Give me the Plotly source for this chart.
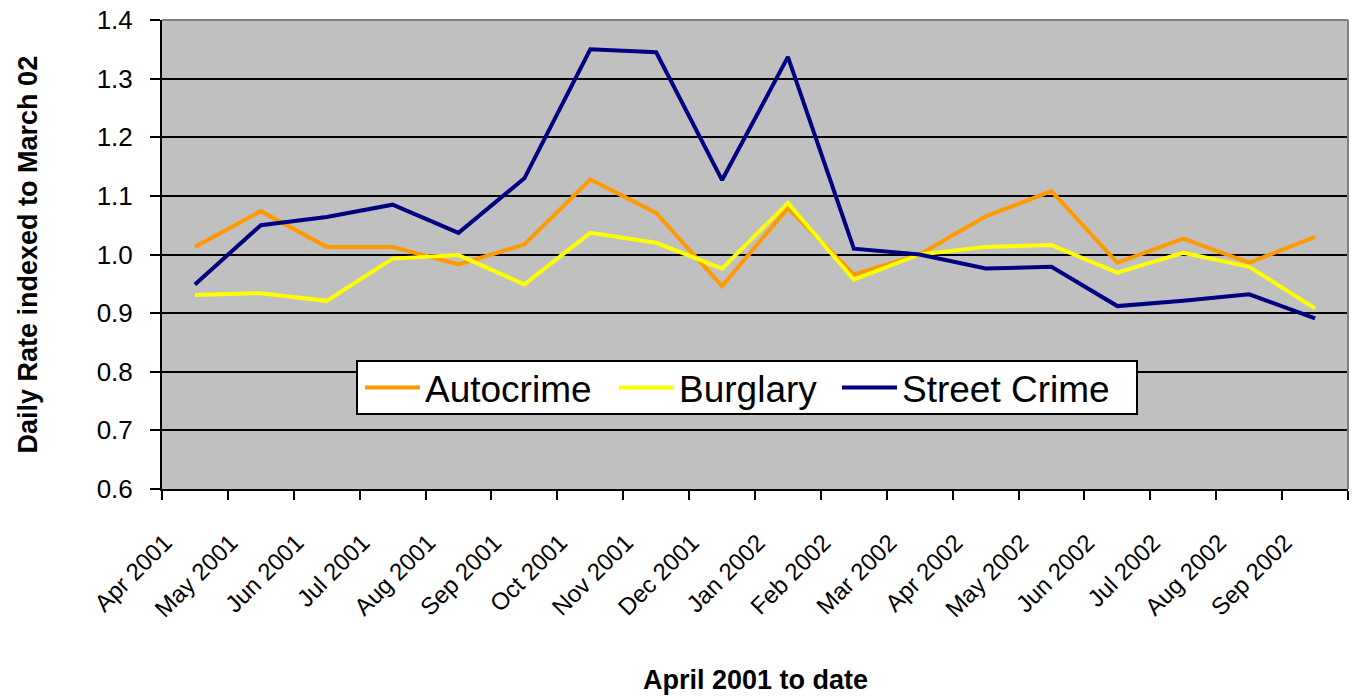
import plotly.graph_objects as go

months = ["Apr 2001", "May 2001", "Jun 2001", "Jul 2001", "Aug 2001", "Sep 2001",
          "Oct 2001", "Nov 2001", "Dec 2001", "Jan 2002", "Feb 2002", "Mar 2002",
          "Apr 2002", "May 2002", "Jun 2002", "Jul 2002", "Aug 2002", "Sep 2002"]

autocrime = [1.013, 1.074, 1.013, 1.013, 0.983, 1.017, 1.128, 1.071, 0.946, 1.079,
             0.966, 1.000, 1.065, 1.108, 0.986, 1.027, 0.986, 1.030]
burglary = [0.931, 0.934, 0.921, 0.993, 0.999, 0.949, 1.037, 1.020, 0.976, 1.088,
            0.957, 1.000, 1.013, 1.016, 0.969, 1.003, 0.979, 0.908]
street_crime = [0.949, 1.050, 1.064, 1.085, 1.037, 1.130, 1.350, 1.345, 1.127, 1.337,
                1.010, 1.000, 0.976, 0.979, 0.912, 0.921, 0.932, 0.891]

y_ticks = [0.6, 0.7, 0.8, 0.9, 1.0, 1.1, 1.2, 1.3, 1.4]

FONT = "Liberation Sans, Arial, sans-serif"

# plot area in pixels (for positioning the legend entries)
PL, PR, PT, PB = 162, 1348, 20, 489
def px_x(p):
    return (p - PL) / (PR - PL)
def px_y(p):
    return (PB - p) / (PB - PT)

series = [("Autocrime", autocrime, "#FF9900", "legend", 360),
          ("Burglary", burglary, "#FFFF00", "legend2", 614),
          ("Street Crime", street_crime, "#000080", "legend3", 837)]

fig = go.Figure()
for name, vals, col, leg, _ in series:
    fig.add_trace(go.Scatter(x=months, y=vals, name=name, mode="lines",
                             line=dict(color=col, width=4), legend=leg))

legend_common = dict(orientation="h", xanchor="left", yanchor="middle",
                     y=px_y(388), bgcolor="rgba(0,0,0,0)", borderwidth=0,
                     font=dict(size=37, family=FONT), itemwidth=55)
legends = {}
for name, vals, col, leg, xpix in series:
    legends[leg] = dict(legend_common, x=px_x(xpix))

fig.update_layout(
    width=1354, height=696,
    margin=dict(l=PL, r=1354 - PR, t=PT, b=696 - PB),
    paper_bgcolor="white",
    plot_bgcolor="#C0C0C0",
    font=dict(family=FONT, color="black"),
    showlegend=True,
    **legends,
    xaxis=dict(type="category", range=[-0.5, 17.5], showgrid=False,
               showline=True, linecolor="black", linewidth=2,
               ticks="outside", tickson="boundaries", ticklen=9, tickwidth=2,
               tickcolor="black", tickangle=-45, tickfont=dict(size=24, family=FONT),
               ticklabelstandoff=28, ticklabelshift=-30),
    yaxis=dict(range=[0.6, 1.4], tickvals=y_ticks,
               ticktext=[f"{v:.1f}" for v in y_ticks],
               showgrid=True, gridcolor="black", gridwidth=2, zeroline=False,
               showline=True, linecolor="black", linewidth=2,
               ticks="outside", ticklen=10, tickwidth=2, tickcolor="black",
               tickfont=dict(size=26, family=FONT), ticklabelstandoff=12),
    shapes=[
        dict(type="line", xref="paper", yref="paper", x0=0, x1=1, y0=1, y1=1,
             line=dict(color="#808080", width=2)),
        dict(type="line", xref="paper", yref="paper", x0=1, x1=1, y0=0, y1=1,
             line=dict(color="#808080", width=2)),
        dict(type="rect", xref="paper", yref="paper", layer="above",
             x0=px_x(357), x1=px_x(1137), y0=px_y(414), y1=px_y(361),
             fillcolor="white", line=dict(color="black", width=2)),
    ],
    annotations=[
        dict(text="<b>Daily Rate indexed to March 02</b>", xref="paper", yref="paper",
             x=-0.113, y=0.5, textangle=-90, showarrow=False,
             font=dict(size=27, family=FONT), xanchor="center", yanchor="middle"),
        dict(text="<b>April 2001 to date</b>", xref="paper", yref="paper",
             x=0.5, y=-0.4072, showarrow=False,
             font=dict(size=27, family=FONT), xanchor="center", yanchor="middle"),
    ],
)

fig.write_html("out.html")
